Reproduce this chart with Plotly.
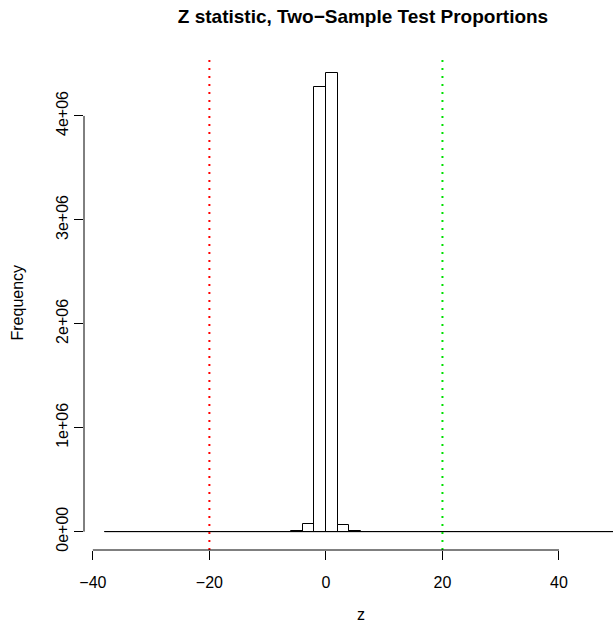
import plotly.graph_objects as go

# Histogram breaks (bin width 2) and counts
breaks = list(range(-38, 52, 2))
counts = [0]*14 + [300, 1200, 3000, 72000, 4280000, 4410000, 61000, 3000, 1100, 300] + [0]*20
crit_low = -20
crit_high = 20
x_ticks = [-40, -20, 0, 20, 40]
y_ticks = [0, 1e6, 2e6, 3e6, 4e6]
y_tick_labels = ["0e+00", "1e+06", "2e+06", "3e+06", "4e+06"]

mids = [(breaks[i] + breaks[i+1]) / 2 for i in range(len(counts))]
widths = [breaks[i+1] - breaks[i] for i in range(len(counts))]

W, H = 613, 624
L, T, B = 84, 55, 74
font = "Liberation Sans, Arial, Helvetica, sans-serif"

fig = go.Figure()
fig.add_trace(go.Bar(x=mids, y=counts, width=widths,
                     marker=dict(color="white", line=dict(color="black", width=1)),
                     showlegend=False, hoverinfo="skip"))
fig.add_trace(go.Scatter(x=[breaks[0], breaks[-1]], y=[0, 0], mode="lines",
                         line=dict(color="black", width=1), showlegend=False, hoverinfo="skip"))

ymax = max(counts)
yr = [-0.04 * ymax, ymax * 1.04]
xspan = breaks[-1] - breaks[0]
x0 = breaks[0] - 0.04 * xspan
px_per_unit = (W - L) / 90.79
x1 = x0 + (W - L) / px_per_unit

for xv, col in [(crit_low, "#FF0000"), (crit_high, "#00E000")]:
    fig.add_shape(type="line", xref="x", yref="paper", x0=xv, x1=xv, y0=0, y1=1,
                  line=dict(color=col, width=2, dash="2px,6px"))

# R-style axis lines spanning only tick range
fig.add_shape(type="line", xref="x", yref="paper", x0=x_ticks[0], x1=x_ticks[-1], y0=0, y1=0,
              line=dict(color="black", width=1))
fig.add_shape(type="line", xref="paper", yref="y", x0=0, x1=0, y0=y_ticks[0], y1=y_ticks[-1],
              line=dict(color="black", width=1))

fig.update_layout(
    width=W, height=H,
    margin=dict(l=L, r=0, t=T, b=B, pad=0),
    plot_bgcolor="white", paper_bgcolor="white",
    font=dict(family=font, size=16, color="black"),
    bargap=0,
    title=dict(text="<b>Z statistic, Two\u2212Sample Test Proportions</b>",
               font=dict(size=19, family=font, color="black"),
               xref="container", x=363 / W, xanchor="center",
               yref="container", y=1 - 16 / H, yanchor="middle"),
    xaxis=dict(range=[x0, x1], showgrid=False, zeroline=False, showline=False,
               tickvals=x_ticks, ticks="outside", ticklen=9, tickcolor="black",
               tickfont=dict(size=16), ticklabelstandoff=9),
    yaxis=dict(range=yr, showgrid=False, zeroline=False, showline=False,
               tickvals=y_ticks, ticktext=y_tick_labels, ticks="outside", ticklen=9,
               tickcolor="black", tickangle=-90, tickfont=dict(size=16), ticklabelstandoff=0),
    annotations=[
        dict(text="z", xref="paper", yref="paper", x=(361 - L) / (W - L),
             y=(H - B - 614) / (H - T - B), xanchor="center", yanchor="middle",
             showarrow=False, font=dict(size=16)),
        dict(text="Frequency", xref="paper", yref="paper", x=(17 - L) / (W - L), y=0.5,
             xanchor="center", yanchor="middle", textangle=-90, showarrow=False,
             font=dict(size=16)),
    ],
)

fig.write_html("out.html")
